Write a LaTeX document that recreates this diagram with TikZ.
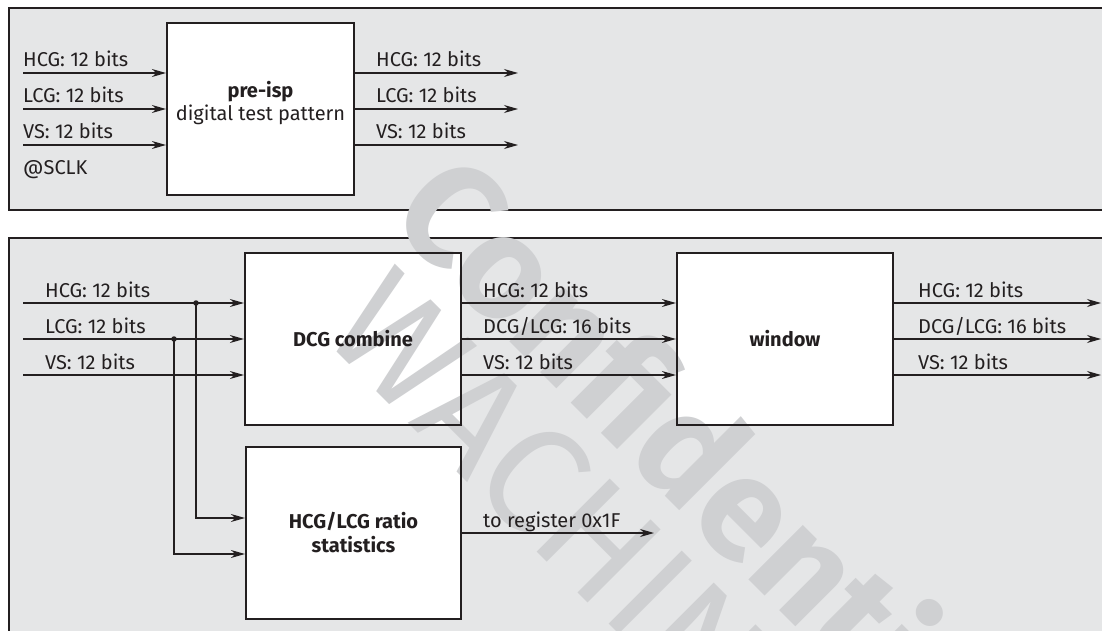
\documentclass[tikz,border=0pt]{standalone}
\usepackage{fontspec}
\setmainfont{Fira Sans}
\usetikzlibrary{arrows.meta,calc}
\pgfdeclarelayer{bg}\pgfdeclarelayer{wm}\pgfsetlayers{bg,wm,main}
\definecolor{panelgray}{HTML}{E5E6E7}
\definecolor{wmgray}{HTML}{CFD0D2}
\definecolor{ink}{HTML}{231F20}
\tikzset{
  box/.style={draw=ink, line width=2.2pt, minimum height=172pt, inner sep=0pt, align=center, text=ink},
  conn/.style={draw=ink, line width=1.2pt},
  arr/.style={conn, -{Stealth[length=14pt, width=8pt, inset=4.5pt]}},
  lbl/.style={anchor=base west, inner sep=0pt, text=ink},
  dot/.style={circle, fill=ink, inner sep=0pt, minimum size=5.5pt},
  panel/.style={fill=panelgray, draw=ink, line width=2.2pt},
  wmtext/.style={text=wmgray, inner sep=0pt, rotate=-45}
}
\begin{document}
\begin{tikzpicture}[x=1pt, y=-1pt, font=\fontsize{20}{23}\selectfont]
\useasboundingbox (0,0) rectangle (1102,631);
\clip (0,0) rectangle (1102,631);

% ---------- boxes ----------
\node[box, minimum width=187pt] (pre) at (260.5,109) {};
\node[box, minimum width=216pt, font=\fontsize{20}{23}\selectfont\bfseries] (dcg) at (353,339) {DCG combine};
\node[box, minimum width=216pt, font=\fontsize{20}{23}\selectfont\bfseries] (win) at (785,339) {window};
\node[box, minimum width=215pt, font=\fontsize{20}{24}\selectfont\bfseries] (rat) at (353.5,533) {HCG/LCG ratio\\statistics};
\node[align=center, inner sep=0pt, text=ink] (pretxt) at ($(pre.center)+(0,-6)$) {\textbf{pre-isp}\\digital test pattern};

% ---------- panels and white fills ----------
\begin{pgfonlayer}{bg}
  \draw[panel] (9,8) rectangle (1130,210);
  \draw[panel] (9,238) rectangle (1130,680);
  \foreach \b in {pre,dcg,win,rat} \fill[white] (\b.north west) rectangle (\b.south east);
\end{pgfonlayer}

% ---------- watermark ----------
\begin{pgfonlayer}{wm}
  \node[wmtext, font=\bfseries\fontsize{145}{145}\selectfont] (wm1) at (712,462) {Confidential};
  \node[wmtext, font=\fontsize{150}{150}\selectfont] (wm2) at (578,520) {WACHINA};
\end{pgfonlayer}

% ---------- top panel ----------
\coordinate (tiH) at (23,73);
\coordinate (tiL) at (23,109);
\coordinate (tiV) at (23,145);
\coordinate (toH) at (518,73);
\coordinate (toL) at (518,109);
\coordinate (toV) at (518,145);
\draw[arr] (tiH) -- (tiH -| pre.west);
\draw[arr] (tiL) -- (tiL -| pre.west);
\draw[arr] (tiV) -- (tiV -| pre.west);
\draw[arr] (toH -| pre.east) -- (toH);
\draw[arr] (toL -| pre.east) -- (toL);
\draw[arr] (toV -| pre.east) -- (toV);
\node[lbl] (tlH) at ($(tiH)+(0,-6)$) {HCG: 12 bits};
\node[lbl] (tlL) at ($(tiL)+(0,-6)$) {LCG: 12 bits};
\node[lbl] (tlV) at ($(tiV)+(0,-6)$) {VS: 12 bits};
\node[lbl] (tlC) at (23,175) {@SCLK};
\node[lbl] (toHl) at (376,67) {HCG: 12 bits};
\node[lbl] (toLl) at (376,103) {LCG: 12 bits};
\node[lbl] (toVl) at (376,139) {VS: 12 bits};

% ---------- bottom panel ----------
\coordinate (biH) at (23,303);
\coordinate (biL) at (23,339);
\coordinate (biV) at (23,375);
\draw[arr] (biH) -- (biH -| dcg.west);
\draw[arr] (biL) -- (biL -| dcg.west);
\draw[arr] (biV) -- (biV -| dcg.west);
\node[lbl] (blH) at (45,297) {HCG: 12 bits};
\node[lbl] (blL) at (45,333) {LCG: 12 bits};
\node[lbl] (blV) at (45,369) {VS: 12 bits};

\node[dot] (dH) at (196,303) {};
\node[dot] (dL) at (174,339) {};
\draw[arr] (dH.center) |- ($(rat.west)+(0,-15)$);
\draw[arr] (dL.center) |- ($(rat.west)+(0,21)$);

% dcg -> window
\draw[arr] (biH -| dcg.east) -- (biH -| win.west);
\draw[arr] (biL -| dcg.east) -- (biL -| win.west);
\draw[arr] (biV -| dcg.east) -- (biV -| win.west);
\node[lbl] (mlH) at (483,297) {HCG: 12 bits};
\node[lbl] (mlL) at (483,333) {DCG/LCG: 16 bits};
\node[lbl] (mlV) at (483,369) {VS: 12 bits};

% window outputs
\coordinate (woH) at (1101,303);
\coordinate (woL) at (1101,339);
\coordinate (woV) at (1101,375);
\draw[arr] (woH -| win.east) -- (woH);
\draw[arr] (woL -| win.east) -- (woL);
\draw[arr] (woV -| win.east) -- (woV);
\node[lbl] (olH) at (918,297) {HCG: 12 bits};
\node[lbl] (olL) at (918,333) {DCG/LCG: 16 bits};
\node[lbl] (olV) at (918,369) {VS: 12 bits};

% ratio output
\coordinate (reg) at (654,533);
\draw[arr] (rat.east) -- (reg);
\node[lbl] (regl) at (483,527) {to register 0x1F};
\end{tikzpicture}
\end{document}
